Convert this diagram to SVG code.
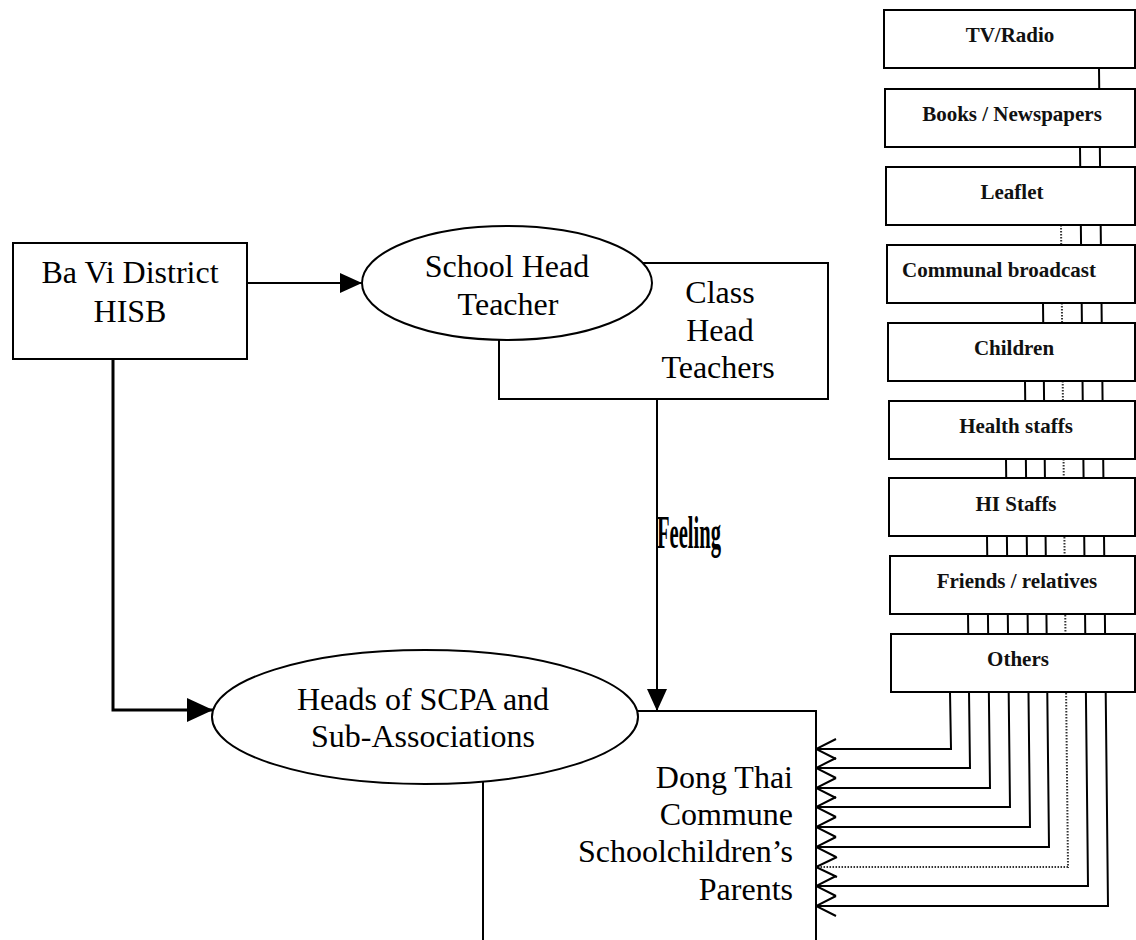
<svg xmlns="http://www.w3.org/2000/svg" width="1136" height="940" viewBox="0 0 1136 940">
<style>
.bg{fill:#fff}
.box{fill:#fff;stroke:#000;stroke-width:2}
.t{font-family:"Liberation Serif","Times New Roman",serif;font-size:32px;fill:#000}
.s{font-family:"Liberation Serif","Times New Roman",serif;font-size:21px;font-weight:bold;fill:#111;text-anchor:middle}
.c{fill:none;stroke:#000;stroke-width:2}
.thick{fill:none;stroke:#000;stroke-width:3}
.dot{fill:none;stroke:#333;stroke-width:2;stroke-dasharray:1.5 1.5}
</style>
<defs>
<marker id="tri" viewBox="0 0 22 20" refX="22" refY="10" markerWidth="22" markerHeight="20" markerUnits="userSpaceOnUse" orient="auto"><path d="M0,0 L22,10 L0,20 z" fill="#000"/></marker>
<marker id="tri2" viewBox="0 0 26 24" refX="26" refY="12" markerWidth="26" markerHeight="24" markerUnits="userSpaceOnUse" orient="auto"><path d="M0,0 L26,12 L0,24 z" fill="#000"/></marker>
<marker id="open" viewBox="0 0 22 22" refX="21" refY="11" markerWidth="22" markerHeight="22" markerUnits="userSpaceOnUse" orient="auto"><path d="M1,1 L21,11 L1,21" fill="none" stroke="#000" stroke-width="2"/></marker>
</defs>
<rect class="bg" x="0" y="0" width="1136" height="940"/>
<g id="connectors">
<path class="c" d="M247,283 L362,283" marker-end="url(#tri)"/>
<path class="thick" d="M113,359 L113,710 L213,710" marker-end="url(#tri2)"/>
<path class="c" d="M657,399 L657,711" marker-end="url(#tri)"/>
<path class="c" d="M1099,68 L1108,906 L816,906" marker-end="url(#open)"/>
<path class="c" d="M1080,147 L1088,886 L816,886" marker-end="url(#open)"/>
<path class="dot" d="M1061,225 L1068,867 L816,867"/>
<path class="c" d="M837,857 L816,867 L837,877"/>
<path class="c" d="M1043,303 L1049,847 L816,847" marker-end="url(#open)"/>
<path class="c" d="M1025,381 L1030,827 L816,827" marker-end="url(#open)"/>
<path class="c" d="M1006,459 L1010,807 L816,807" marker-end="url(#open)"/>
<path class="c" d="M987,536 L990,788 L816,788" marker-end="url(#open)"/>
<path class="c" d="M968,614 L970,768 L816,768" marker-end="url(#open)"/>
<path class="c" d="M950,692 L951,749 L816,749" marker-end="url(#open)"/>
<text x="657" y="548" font-family="Liberation Serif, serif" font-size="46" font-weight="bold" textLength="64" lengthAdjust="spacingAndGlyphs">Feeling</text>
</g>
<g id="ba-vi">
<rect class="box" x="13" y="243" width="234" height="116"/>
<text class="t" x="130" y="283" text-anchor="middle">Ba Vi District</text>
<text class="t" x="130" y="322" text-anchor="middle">HISB</text>
</g>
<g id="class-head-teachers">
<rect class="box" x="499" y="263" width="329" height="136"/>
<text class="t" x="720" y="303" text-anchor="middle">Class</text>
<text class="t" x="720" y="341" text-anchor="middle">Head</text>
<text class="t" x="718" y="378" text-anchor="middle">Teachers</text>
</g>
<g id="school-head-teacher">
<ellipse class="box" cx="507" cy="283" rx="145" ry="57"/>
<text class="t" x="507" y="277" text-anchor="middle">School Head</text>
<text class="t" x="508" y="315" text-anchor="middle">Teacher</text>
</g>
<g id="dong-thai">
<path class="box" d="M483,942 L483,711 L816,711 L816,942"/>
<text class="t" x="793" y="788" text-anchor="end">Dong Thai</text>
<text class="t" x="793" y="825" text-anchor="end">Commune</text>
<text class="t" x="793" y="862" text-anchor="end">Schoolchildren’s</text>
<text class="t" x="793" y="900" text-anchor="end">Parents</text>
</g>
<g id="heads-scpa">
<ellipse class="box" cx="425" cy="717" rx="213" ry="67"/>
<text class="t" x="423" y="710" text-anchor="middle">Heads of SCPA and</text>
<text class="t" x="423" y="747" text-anchor="middle">Sub-Associations</text>
</g>
<g id="tv-radio"><rect class="box" x="884" y="10" width="251" height="58"/><text class="s" x="1010" y="42">TV/Radio</text></g>
<g id="books"><rect class="box" x="885" y="89" width="250" height="58"/><text class="s" x="1012" y="121">Books / Newspapers</text></g>
<g id="leaflet"><rect class="box" x="886" y="167" width="249" height="58"/><text class="s" x="1012" y="199">Leaflet</text></g>
<g id="communal"><rect class="box" x="887" y="245" width="248" height="58"/><text class="s" x="999" y="277">Communal broadcast</text></g>
<g id="children"><rect class="box" x="888" y="323" width="247" height="58"/><text class="s" x="1014" y="355">Children</text></g>
<g id="health-staffs"><rect class="box" x="889" y="401" width="246" height="58"/><text class="s" x="1016" y="433">Health staffs</text></g>
<g id="hi-staffs"><rect class="box" x="889" y="478" width="246" height="58"/><text class="s" x="1016" y="511">HI Staffs</text></g>
<g id="friends"><rect class="box" x="890" y="556" width="245" height="58"/><text class="s" x="1017" y="588">Friends / relatives</text></g>
<g id="others"><rect class="box" x="891" y="634" width="244" height="58"/><text class="s" x="1018" y="666">Others</text></g>
</svg>
